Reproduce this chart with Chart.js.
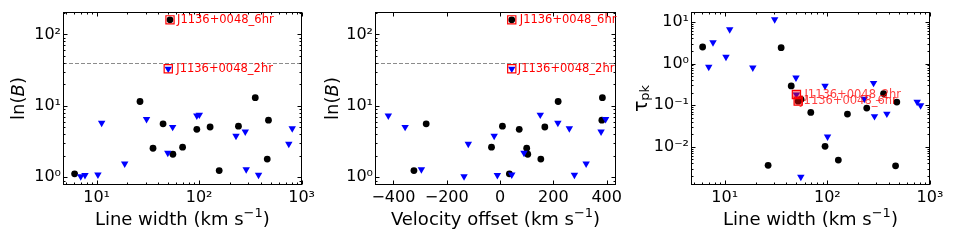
<!DOCTYPE html>
<html>
<head>
<meta charset="utf-8">
<script src="https://cdn.jsdelivr.net/npm/chart.js@4/dist/chart.umd.min.js"></script>
<style>
    body { margin: 0; background: #fff; }
    #wrap { position: relative; width: 954px; height: 243px; }
    .panel { position: absolute; top: 0; }
</style>
</head>
<body>
<div id="wrap">
    <div class="panel" style="left:0"><canvas id="c1" width="318" height="243"></canvas></div>
    <div class="panel" style="left:318px"><canvas id="c2" width="318" height="243"></canvas></div>
    <div class="panel" style="left:636px"><canvas id="c3" width="318" height="243"></canvas></div>
</div>
<script>
// ============================================
// DADOS
// ============================================

// detections (black circles)
const widthCirc = [6.1, 26.5, 35.5, 44.5, 55.5, 69, 95, 128, 157, 242, 353, 462, 475];
const lnBCirc   = [1.12, 11.5, 2.55, 5.6, 2.1, 2.64, 4.7, 5.06, 1.24, 5.2, 13, 1.8, 6.3];
const velCirc   = [35, 218, 100, -277, 104, -32, 72, 168, -323, 9, 384, 153, 382];
const tauCirc   = [2.5, 0.0036, 2.4, 0.29, 0.138, 0.067, 0.0103, 0.0048, 0.061, 0.085, 0.19, 0.0035, 0.119];

// blue triangles
const widthTri = [7.0, 7.7, 10.3, 11.2, 18.8, 30.7, 49.5, 55.2, 95, 100.5, 229, 282, 288, 380, 750, 810];
const lnBTri   = [1.03, 1.07, 1.09, 5.75, 1.55, 6.5, 2.2, 5.05, 7.3, 7.5, 3.8, 4.35, 1.29, 1.08, 2.94, 4.84];
const velTri   = [-135, -10, 44, 217, 323, 396, 90, -356, -419, 151, -22, 379, -295, 279, -119, 260];
const tauTri   = [0.83, 3.2, 1.44, 6.6, 0.8, 11.5, 0.46, 0.0019, 0.29, 0.0175, 0.142, 0.34, 0.054, 0.062, 0.12, 0.099];

// highlighted sources
const hiNames = ['J1136+0048_6hr', 'J1136+0048_2hr'];
const hiKind  = ['circle', 'triangle'];
const hiWidth = [52, 50];
const hiLnB   = [160, 33];
const hiVel   = [44, 44];
const hiTau   = [0.125, 0.18];

// threshold line
const lnBLimit = 40;

// ticks
const ticksWidth = [10, 100, 1000];
const ticksLnB   = [1, 10, 100];
const ticksVel   = [-400, -200, 0, 200, 400];
const ticksTau   = [0.01, 0.1, 1, 10];

// ============================================
// AUXILIARES
// ============================================
const FONTE = "'DejaVu Sans', sans-serif";
const SUP = { '0': '⁰', '1': '¹', '2': '²', '3': '³', '-': '⁻' };

const pts = (xs, ys) => xs.map((v, i) => ({ x: v, y: ys[i] }));
const fmtPot = v => '10' + String(Math.round(Math.log10(v))).split('').map(c => SUP[c]).join('');
const fmtLin = v => v < 0 ? '\u2212' + Math.abs(v) : String(v);

function minorLog(min, max) {
    const out = [];
    for (let e = Math.floor(Math.log10(min)); e <= Math.ceil(Math.log10(max)); e++) {
        for (let k = 1; k <= 9; k++) {
            const v = k * Math.pow(10, e);
            if (v >= min && v <= max) out.push({ v, major: k === 1 });
        }
    }
    return out;
}

// moldura, ticks para dentro, títulos, linha tracejada, rótulos
const moldura = {
    id: 'moldura',
    beforeDatasetsDraw(chart, args, o) {
        if (o.limite == null) return;
        const { ctx, chartArea: a, scales: { y } } = chart;
        const py = Math.round(y.getPixelForValue(o.limite)) + 0.5;
        ctx.save();
        ctx.strokeStyle = '#8c8c8c';
        ctx.lineWidth = 1;
        ctx.setLineDash([4, 2]);
        ctx.beginPath();
        ctx.moveTo(a.left, py);
        ctx.lineTo(a.right, py);
        ctx.stroke();
        ctx.restore();
    },
    afterDraw(chart, args, o) {
        const { ctx, chartArea: a, scales: { x, y } } = chart;
        const L = Math.round(a.left) + 0.5, R = Math.round(a.right) - 0.5;
        const T = Math.round(a.top) + 0.5, B = Math.round(a.bottom) - 0.5;
        ctx.save();
        ctx.strokeStyle = '#000';
        ctx.lineWidth = 1;
        ctx.strokeRect(L, T, R - L, B - T);

        ctx.beginPath();
        const xt = o.xLog ? minorLog(x.min, x.max) : o.xMajor.map(v => ({ v, major: true }));
        xt.forEach(t => {
            const px = Math.round(x.getPixelForValue(t.v)) + 0.5;
            const len = t.major ? 4 : 2;
            ctx.moveTo(px, B); ctx.lineTo(px, B - len);
            ctx.moveTo(px, T); ctx.lineTo(px, T + len);
        });
        minorLog(y.min, y.max).forEach(t => {
            const py = Math.round(y.getPixelForValue(t.v)) + 0.5;
            const len = t.major ? 4 : 2;
            ctx.moveTo(L, py); ctx.lineTo(L + len, py);
            ctx.moveTo(R, py); ctx.lineTo(R - len, py);
        });
        ctx.stroke();

        // rótulos das fontes destacadas
        ctx.fillStyle = o.corRotulo;
        ctx.font = '11.5px ' + FONTE;
        ctx.textBaseline = 'middle';
        o.rotulos.forEach((r, i) => {
            ctx.fillText(r.txt, x.getPixelForValue(r.x) + o.desloc[i], y.getPixelForValue(r.y));
        });

        // título eixo x
        ctx.fillStyle = '#000';
        ctx.textBaseline = 'middle';
        const cx = (a.left + a.right) / 2;
        desenharPartes(ctx, o.tituloX, cx, 220);
        // título eixo y
        ctx.save();
        ctx.translate(a.left - o.yDesloc, (a.top + a.bottom) / 2);
        ctx.rotate(-Math.PI / 2);
        desenharPartes(ctx, o.tituloY, 0, 0);
        ctx.restore();
        ctx.restore();
    }
};

function desenharPartes(ctx, partes, cx, cy) {
    let total = 0;
    partes.forEach(p => { ctx.font = p.f; p.w = ctx.measureText(p.t).width; total += p.w; });
    let px = cx - total / 2;
    ctx.textAlign = 'left';
    partes.forEach(p => {
        ctx.font = p.f;
        ctx.fillText(p.t, px, cy + (p.dy || 0));
        px += p.w;
    });
}

const tituloLargura = [
    { t: 'Line width (km s', f: '18px ' + FONTE },
    { t: '\u22121', f: '13px ' + FONTE, dy: -6 },
    { t: ')', f: '18px ' + FONTE }
];
const tituloLnB = [
    { t: 'ln(', f: '18px ' + FONTE },
    { t: 'B', f: 'oblique 18px ' + FONTE },
    { t: ')', f: '18px ' + FONTE }
];
const tituloVel = [
    { t: 'Velocity offset (km s', f: '18px ' + FONTE },
    { t: '\u22121', f: '13px ' + FONTE, dy: -6 },
    { t: ')', f: '18px ' + FONTE }
];
const tituloTau = [
    { t: 'τ', f: '19px ' + FONTE },
    { t: 'pk', f: '13px ' + FONTE, dy: 4 }
];

// ============================================
// PAINÉIS
// ============================================
function criarPainel(id, p) {
    const hiPts = pts(p.hiX, p.hiY);
    const escalaX = {
        type: p.xLog ? 'logarithmic' : 'linear',
        min: p.xMin, max: p.xMax,
        grid: { display: false, drawTicks: false },
        border: { display: false },
        ticks: { color: '#000', font: { family: FONTE, size: 16 }, padding: 3, maxRotation: 0,
                 callback: p.xLog ? fmtPot : fmtLin },
        afterBuildTicks: s => { s.ticks = p.xTicks.map(v => ({ value: v })); },
        afterFit: s => { s.height = 58; }
    };
    const escalaY = {
        type: 'logarithmic',
        min: p.yMin, max: p.yMax,
        grid: { display: false, drawTicks: false },
        border: { display: false },
        ticks: { color: '#000', font: { family: FONTE, size: 16 }, padding: 2, callback: fmtPot },
        afterBuildTicks: s => { s.ticks = p.yTicks.map(v => ({ value: v })); },
        afterFit: s => { s.width = p.esq; }
    };
    return new Chart(document.getElementById(id), {
        type: 'scatter',
        data: {
            datasets: [
                {
                    data: hiPts, pointStyle: 'rect', pointRadius: 5.8,
                    borderColor: '#ff0000', backgroundColor: p.quadFundo, borderWidth: 1.2, order: 0
                },
                {
                    data: pts(p.cX, p.cY).concat(hiPts.filter((_, i) => hiKind[i] === 'circle')),
                    pointStyle: 'circle', pointRadius: 3.4, backgroundColor: '#000', borderWidth: 0, order: 2
                },
                {
                    data: pts(p.tX, p.tY).concat(hiPts.filter((_, i) => hiKind[i] === 'triangle')),
                    pointStyle: 'triangle', pointRotation: 180, pointRadius: 4.3,
                    backgroundColor: '#0000ff', borderWidth: 0, order: 1
                }
            ]
        },
        options: {
            responsive: false,
            animation: false,
            events: [],
            layout: { padding: { left: 0, right: p.dir, top: 12, bottom: 0 } },
            plugins: {
                legend: { display: false },
                tooltip: { enabled: false },
                moldura: {
                    xLog: p.xLog, xMajor: p.xTicks, limite: p.limite,
                    tituloX: p.tituloX, tituloY: p.tituloY, yDesloc: p.yDesloc,
                    corRotulo: p.corRotulo, desloc: p.desloc,
                    rotulos: hiNames.map((n, i) => ({ txt: n, x: p.hiX[i], y: p.hiY[i] }))
                }
            },
            scales: { x: escalaX, y: escalaY }
        },
        plugins: [moldura]
    });
}

criarPainel('c1', {
    xLog: true, xMin: 4.7, xMax: 1000, xTicks: ticksWidth,
    yMin: 0.78, yMax: 206, yTicks: ticksLnB,
    cX: widthCirc, cY: lnBCirc, tX: widthTri, tY: lnBTri, hiX: hiWidth, hiY: hiLnB,
    limite: lnBLimit, esq: 63, dir: 16, yDesloc: 44,
    tituloX: tituloLargura, tituloY: tituloLnB,
    quadFundo: 'rgba(0,0,0,0)', corRotulo: '#ff0000', desloc: [7, 8]
});

criarPainel('c2', {
    xLog: false, xMin: -469, xMax: 435, xTicks: ticksVel,
    yMin: 0.78, yMax: 206, yTicks: ticksLnB,
    cX: velCirc, cY: lnBCirc, tX: velTri, tY: lnBTri, hiX: hiVel, hiY: hiLnB,
    limite: lnBLimit, esq: 57, dir: 20, yDesloc: 42,
    tituloX: tituloVel, tituloY: tituloLnB,
    quadFundo: 'rgba(0,0,0,0)', corRotulo: '#ff0000', desloc: [8, 6]
});

criarPainel('c3', {
    xLog: true, xMin: 4.7, xMax: 1000, xTicks: ticksWidth,
    yMin: 0.00121, yMax: 17.3, yTicks: ticksTau,
    cX: widthCirc, cY: tauCirc, tX: widthTri, tY: tauTri, hiX: hiWidth, hiY: hiTau,
    limite: null, esq: 55, dir: 24, yDesloc: 49,
    tituloX: tituloLargura, tituloY: tituloTau,
    quadFundo: 'rgba(255,0,0,0.45)', corRotulo: 'rgba(255,0,0,0.75)', desloc: [2, 8]
});
</script>
</body>
</html>
